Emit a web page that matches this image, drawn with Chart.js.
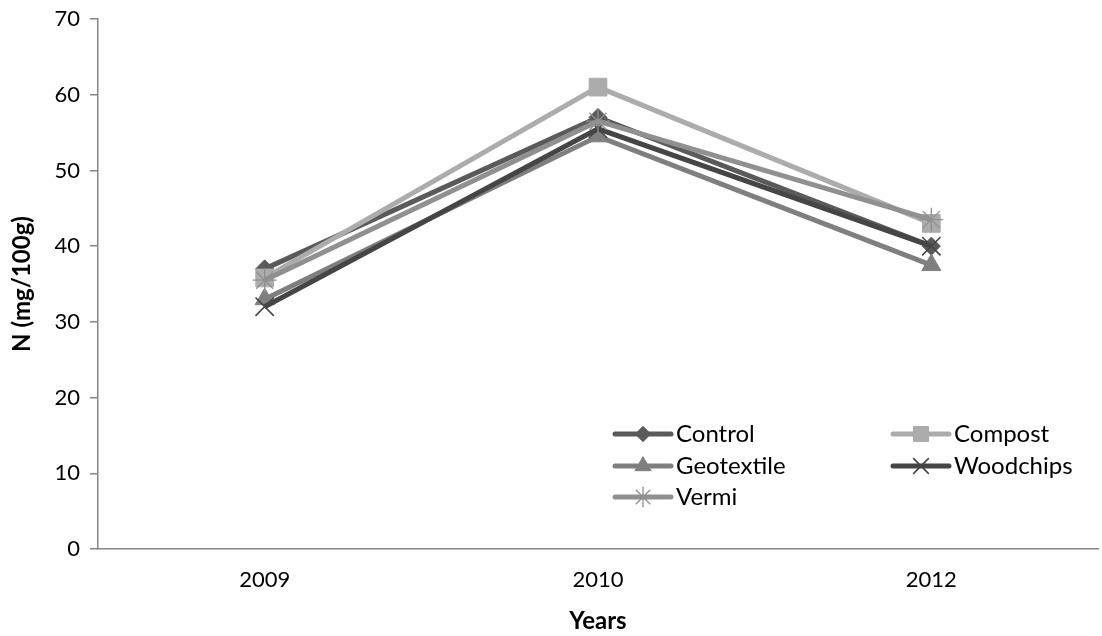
<!DOCTYPE html>
<html>
<head>
<meta charset="utf-8">
<title>N (mg/100g) by year</title>
<script src="https://cdn.jsdelivr.net/npm/chart.js@4.4.1/dist/chart.umd.min.js"></script>
<style>
  html, body { margin: 0; padding: 0; background: #ffffff; }
  #wrap { width: 1102px; height: 636px; }
</style>
</head>
<body>
<div id="wrap"><canvas id="c" width="1102" height="636"></canvas></div>
<script>
// Sampling years (category axis)
const years = ['2009', '2010', '2012'];

// N content (mg/100g) per treatment
const control    = [37.0, 57.0, 40.0];
const compost    = [35.8, 61.0, 43.0];
const geotextile = [33.0, 54.5, 37.5];
const woodchips  = [32.0, 55.5, 40.0];
const vermi      = [35.5, 56.5, 43.5];

// Y axis range and step
const yMin = 0;
const yMax = 70;
const yStep = 10;

const FONT = 'Lato, "Open Sans", "DejaVu Sans", sans-serif';

const seriesNames = ['Control', 'Compost', 'Geotextile', 'Woodchips', 'Vermi'];
const seriesData = [control, compost, geotextile, woodchips, vermi];
const seriesColors = ['#5a5a5a', '#acacac', '#7f7f7f', '#454545', '#909090'];
const seriesMarkers = [
  { style: 'rectRot', radius: 9, border: 1 },
  { style: 'rect', radius: 12.5, border: 1 },
  { style: 'triangle', radius: 11, border: 1 },
  { style: 'crossRot', radius: 13, border: 1.6 },
  { style: 'star', radius: 12, border: 1.3 }
];

const datasets = seriesNames.map((name, i) => ({
  label: name,
  data: seriesData[i],
  borderColor: seriesColors[i],
  backgroundColor: seriesColors[i],
  borderWidth: 5,
  tension: 0,
  pointStyle: seriesMarkers[i].style,
  pointRadius: seriesMarkers[i].radius,
  pointHoverRadius: seriesMarkers[i].radius,
  pointBorderWidth: seriesMarkers[i].border,
  pointBorderColor: seriesColors[i],
  pointBackgroundColor: seriesColors[i],
  order: -i
}));

// Legend drawn inside the plot, two columns, line + marker swatches
const insideLegend = {
  id: 'insideLegend',
  afterDraw(chart) {
    const ctx = chart.ctx;
    const cols = [615, 893];
    const rows = [434, 466, 497];
    const lineLen = 56;
    ctx.save();
    seriesNames.forEach((name, i) => {
      const x = cols[i % 2];
      const y = rows[Math.floor(i / 2)];
      ctx.strokeStyle = seriesColors[i];
      ctx.lineWidth = 5;
      ctx.lineCap = 'round';
      ctx.beginPath();
      ctx.moveTo(x, y);
      ctx.lineTo(x + lineLen, y);
      ctx.stroke();
      ctx.lineCap = 'butt';
      ctx.fillStyle = seriesColors[i];
      ctx.lineWidth = seriesMarkers[i].border;
      Chart.helpers.drawPoint(ctx, {
        pointStyle: seriesMarkers[i].style,
        radius: seriesMarkers[i].radius * 0.85,
        rotation: 0,
        borderWidth: seriesMarkers[i].border
      }, x + lineLen / 2, y);
      ctx.fillStyle = '#000000';
      ctx.font = '24px ' + FONT;
      ctx.textBaseline = 'middle';
      ctx.textAlign = 'left';
      ctx.fillText(name, x + lineLen + 5, y);
    });
    ctx.restore();
  }
};

new Chart(document.getElementById('c'), {
  type: 'line',
  data: { labels: years, datasets },
  options: {
    responsive: false,
    animation: false,
    layout: { autoPadding: false, padding: { top: 19, right: 4, bottom: 0, left: 0 } },
    plugins: {
      legend: { display: false },
      tooltip: { enabled: false }
    },
    scales: {
      x: {
        offset: true,
        grid: { display: false, drawTicks: false },
        border: { display: true, color: '#868686', width: 1.5 },
        ticks: {
          color: '#000000',
          font: { family: FONT, size: 22 },
          padding: 18,
          maxRotation: 0
        },
        title: {
          display: true,
          text: 'Years',
          color: '#000000',
          font: { family: FONT, size: 24, weight: 'bold' },
          padding: { top: 0, bottom: 0 }
        },
        afterFit(scale) {
          scale.height = 87;
          scale.paddingLeft = 0;
          scale.paddingRight = 0;
        }
      },
      y: {
        min: yMin,
        max: yMax,
        grid: {
          display: true,
          drawOnChartArea: false,
          drawTicks: true,
          tickLength: 8,
          color: '#868686',
          lineWidth: 1.5
        },
        border: { display: true, color: '#868686', width: 1.5 },
        ticks: {
          stepSize: yStep,
          color: '#000000',
          font: { family: FONT, size: 22 },
          padding: 10
        },
        title: {
          display: true,
          text: 'N (mg/100g)',
          color: '#000000',
          font: { family: FONT, size: 24, weight: 'bold' },
          padding: { top: 8, bottom: 0 }
        },
        afterFit(scale) {
          scale.width = 98;
          scale.paddingTop = 0;
          scale.paddingBottom = 0;
        }
      }
    }
  },
  plugins: [insideLegend]
});
</script>
</body>
</html>
